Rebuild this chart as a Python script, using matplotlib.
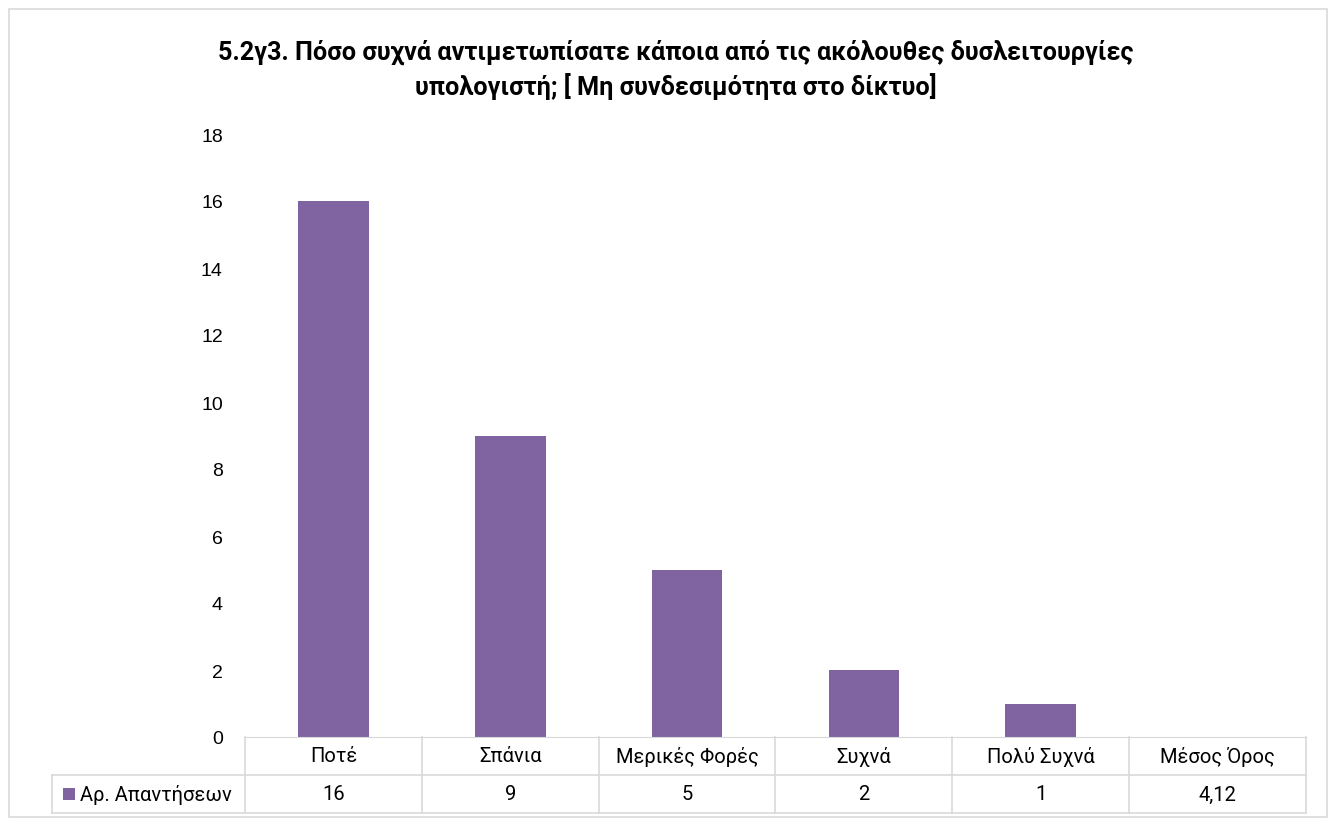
import matplotlib.pyplot as plt
from matplotlib.patches import Rectangle
from matplotlib.lines import Line2D

categories = ["Ποτέ", "Σπάνια", "Μερικές Φορές", "Συχνά", "Πολύ Συχνά", "Μέσος Όρος"]
bar_values = [16, 9, 5, 2, 1, None]
table_labels = ["16", "9", "5", "2", "1", "4,12"]
series_name = "Αρ. Απαντήσεων"
title = "5.2γ3. Πόσο συχνά αντιμετωπίσατε κάποια από τις ακόλουθες δυσλειτουργίες\nυπολογιστή; [ Μη συνδεσιμότητα στο δίκτυο]"

BAR_COLOR = "#8064A2"
GRID = "#D9D9D9"
NARROW = ["Roboto", "DejaVu Sans"]

W, H = 1329, 820
plt.rcParams["font.family"] = ["Liberation Sans", "DejaVu Sans"]
fig = plt.figure(figsize=(W / 100, H / 100), dpi=100)

# chart border
fig.add_artist(Rectangle((9 / W, 1 - 818 / H), 1318 / W, 808 / H, transform=fig.transFigure,
                         fill=False, edgecolor=GRID, linewidth=1.2))

ax = fig.add_axes([245 / W, 1 - 738 / H, (1306 - 245) / W, (738 - 135) / H])
x = list(range(len(categories)))
xs = [i for i, v in zip(x, bar_values) if v is not None]
vs = [v for v in bar_values if v is not None]
ax.bar(xs, vs, width=0.4, color=BAR_COLOR)
ax.set_xlim(-0.5, len(categories) - 0.5)
ax.set_ylim(0, 18)
ax.set_yticks(range(0, 19, 2))
ax.tick_params(axis="y", length=0, pad=16, labelsize=14, labelcolor="#000000")
ax.set_xticks([])
for s in ["left", "right", "top"]:
    ax.spines[s].set_visible(False)
ax.spines["bottom"].set_color(GRID)

fig.text(676 / W, 1 - 70 / H, title, ha="center", va="center", fontsize=18.2,
         fontweight="bold", family=NARROW, linespacing=1.35)

# data table below the axis
tr = ax.get_xaxis_transform()
px = 1.0 / (738 - 135)
row_h = 38 * px
cat_w = (1306 - 245) / len(categories)
left_x = -0.5 - (245 - 52) / cat_w
n = len(categories)
y0, y1, y2 = 0, -row_h, -2 * row_h
kw = dict(transform=tr, color=GRID, linewidth=1.2, clip_on=False)
ax.add_line(Line2D([left_x, n - 0.5], [y1, y1], **kw))
ax.add_line(Line2D([left_x, n - 0.5], [y2, y2], **kw))
ax.add_line(Line2D([left_x, left_x], [y1, y2], **kw))
for i in range(n + 1):
    ax.add_line(Line2D([i - 0.5, i - 0.5], [y0, y2], **kw))

for i, (c, t) in enumerate(zip(categories, table_labels)):
    ax.text(i, (y0 + y1) / 2, c, transform=tr, ha="center", va="center",
            fontsize=14.5, family=NARROW, clip_on=False)
    ax.text(i, (y1 + y2) / 2, t, transform=tr, ha="center", va="center",
            fontsize=14.5, family=NARROW, clip_on=False)

# legend key in the table row label
fig.add_artist(Rectangle((63 / W, 1 - 801 / H), 12 / W, 12 / H, transform=fig.transFigure,
                         facecolor=BAR_COLOR, edgecolor="none"))
fig.text(80 / W, 1 - 795 / H, series_name, ha="left", va="center", fontsize=14.5, family=NARROW)

fig.savefig("out.png", dpi=100)
